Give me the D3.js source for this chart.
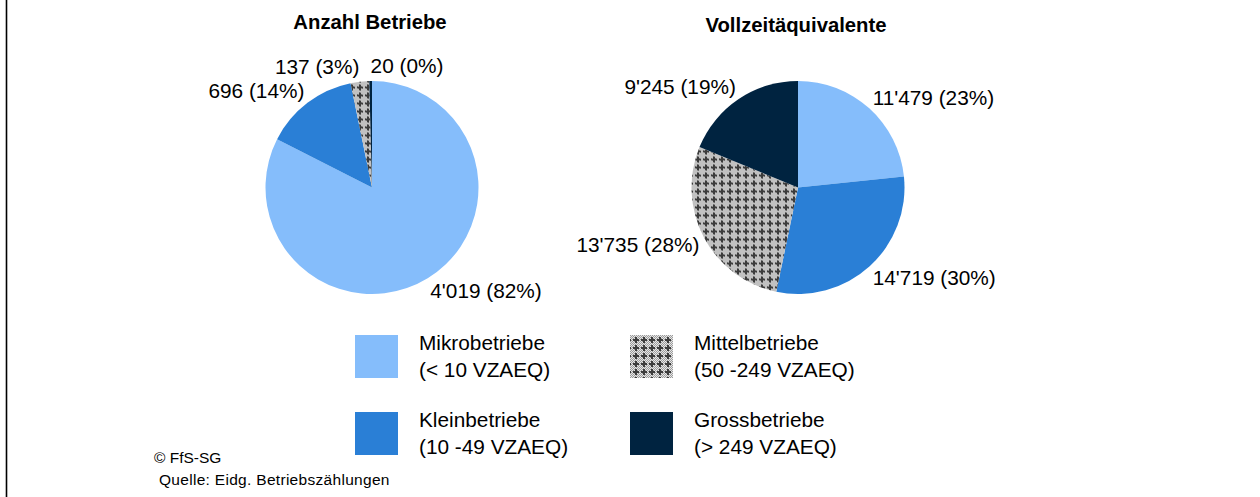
<!DOCTYPE html>
<html>
<head>
<meta charset="utf-8">
<script src="https://cdn.jsdelivr.net/npm/d3@7"></script>
<style>
  body { margin: 0; background: #fff; }
  svg { display: block; font-family: "Liberation Sans", Arial, sans-serif; }
</style>
</head>
<body>
<svg id="chart" width="1260" height="497"></svg>
<script>
// data
const categories = ["Mikrobetriebe", "Kleinbetriebe", "Mittelbetriebe", "Grossbetriebe"];
const categoryRanges = ["(< 10 VZAEQ)", "(10 -49 VZAEQ)", "(50 -249 VZAEQ)", "(> 249 VZAEQ)"];
const anzahlBetriebe = [4019, 696, 137, 20];
const vollzeitaequivalente = [11479, 14719, 13735, 9245];
const pieTitles = ["Anzahl Betriebe", "Vollzeitäquivalente"];

const colors = ["#85bdfb", "#2a7fd6", "url(#mittelPattern)", "#002340"];

const svg = d3.select("#chart");

// left frame line
svg.append("line")
    .attr("x1", 6.5).attr("x2", 6.5)
    .attr("y1", 0).attr("y2", 497)
    .attr("stroke", "#000")
    .attr("stroke-width", 1.6);

// pattern for Mittelbetriebe
const defs = svg.append("defs");
const pat = defs.append("pattern")
    .attr("id", "mittelPattern")
    .attr("patternUnits", "userSpaceOnUse")
    .attr("width", 8).attr("height", 8);
pat.append("rect").attr("width", 8).attr("height", 8).attr("fill", "#9c9c9c");
for (let i = 0; i < 8; i++) {
    for (let j = 0; j < 8; j++) {
        if ((i + j) % 2 === 0) {
            pat.append("rect").attr("x", i).attr("y", j).attr("width", 1).attr("height", 1).attr("fill", "#e6e6e6");
        }
    }
}
pat.append("rect").attr("x", 3).attr("y", 1).attr("width", 2).attr("height", 6).attr("fill", "#3c3c3c");
pat.append("rect").attr("x", 1).attr("y", 3).attr("width", 6).attr("height", 2).attr("fill", "#3c3c3c");

const swiss = d3.formatLocale({ decimal: ".", thousands: "'", grouping: [3], currency: ["", ""] });
const fmt = swiss.format(",d");

const radius = 106.5;
const pies = [
    { title: pieTitles[0], values: anzahlBetriebe, cx: 372, cy: 187.5, titleY: 29 },
    { title: pieTitles[1], values: vollzeitaequivalente, cx: 798, cy: 187.5, titleY: 32 }
];

const pie = d3.pie().sort(null).value(d => d);
const arc = d3.arc().innerRadius(0).outerRadius(radius);

pies.forEach(p => {
    const g = svg.append("g").attr("transform", `translate(${p.cx}, ${p.cy})`);
    const total = d3.sum(p.values);
    const arcs = pie(p.values);

    g.selectAll("path.slice")
        .data(arcs)
        .enter()
        .append("path")
        .attr("class", "slice")
        .attr("d", arc)
        .attr("fill", (d, i) => colors[i]);

    // labels, outside end
    g.selectAll("text.lbl")
        .data(arcs)
        .enter()
        .append("text")
        .attr("class", "lbl")
        .each(function(d) {
            const a = (d.startAngle + d.endAngle) / 2;
            const r = radius + 5;
            const x = r * Math.sin(a);
            const y = -r * Math.cos(a);
            const anchor = (Math.sin(a) >= 0 || a > 2 * Math.PI - 0.1) ? "start" : "end";
            d3.select(this)
                .attr("x", x)
                .attr("y", y - Math.cos(a) * 10)
                .attr("dy", "0.35em")
                .attr("text-anchor", anchor);
        })
        .attr("font-size", 20.8)
        .attr("fill", "#000")
        .text(d => `${fmt(d.value)} (${Math.round(d.value / total * 100)}%)`);

    svg.append("text")
        .attr("x", p.cx - 2)
        .attr("y", p.titleY)
        .attr("text-anchor", "middle")
        .attr("font-size", 20.3)
        .attr("font-weight", "bold")
        .text(p.title);
});

// legend
const legendX = d3.scaleOrdinal().domain([0, 1]).range([355, 630]);
const legendY = d3.scaleOrdinal().domain([0, 1]).range([335, 412]);
const legend = svg.append("g");
categories.forEach((c, i) => {
    const col = i < 2 ? 0 : 1;
    const row = i % 2;
    const x = legendX(col), y = legendY(row);
    legend.append("rect")
        .attr("x", x).attr("y", y)
        .attr("width", 43).attr("height", 43)
        .attr("fill", colors[i]);
    const t = legend.append("text")
        .attr("x", x + 64)
        .attr("y", y + 15)
        .attr("font-size", 20.8);
    t.append("tspan").attr("x", x + 64).text(c);
    t.append("tspan").attr("x", x + 64).attr("dy", 27).text(categoryRanges[i]);
});

// footnotes
svg.append("text")
    .attr("x", 154).attr("y", 463)
    .attr("font-size", 15.5)
    .text("© FfS-SG");
svg.append("text")
    .attr("x", 159).attr("y", 485)
    .attr("font-size", 15.5)
    .attr("letter-spacing", 0.3)
    .text("Quelle: Eidg. Betriebszählungen");
</script>
</body>
</html>
